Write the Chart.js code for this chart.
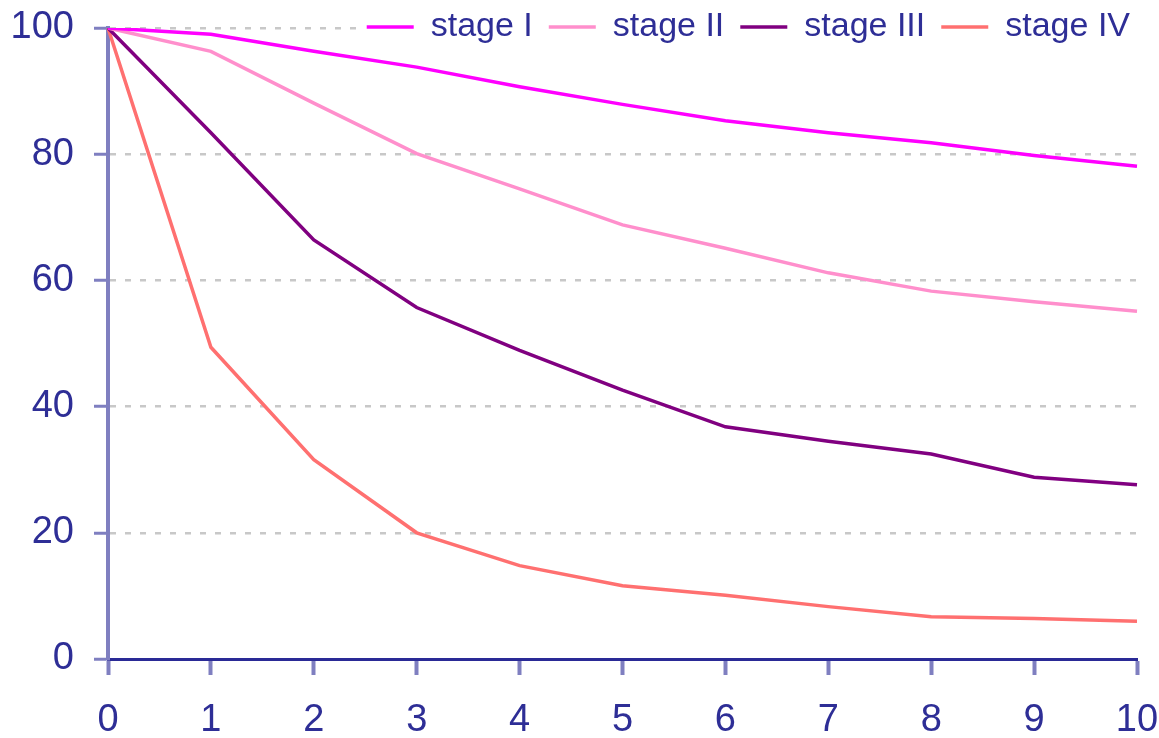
<!DOCTYPE html>
<html>
<head>
<meta charset="utf-8">
<script src="https://cdn.jsdelivr.net/npm/chart.js@4"></script>
<style>
  body { margin: 0; background: #fff; }
  canvas { display: block; }
</style>
</head>
<body>
<canvas id="chart" width="1159" height="738"></canvas>
<script>
// years after diagnosis
var years = ['0', '1', '2', '3', '4', '5', '6', '7', '8', '9', '10'];

// survival (%) per stage
var stageI   = [100, 99.0, 96.3, 93.8, 90.7, 87.9, 85.3, 83.4, 81.8, 79.8, 78.1];
var stageII  = [100, 96.3, 88.1, 80.1, 74.5, 68.8, 65.1, 61.2, 58.3, 56.6, 55.1];
var stageIII = [100, 83.4, 66.4, 55.7, 48.9, 42.6, 36.8, 34.5, 32.5, 28.8, 27.6];
var stageIV  = [100, 49.4, 31.6, 20.0, 14.8, 11.6, 10.1, 8.3, 6.7, 6.4, 6.0];

var seriesNames = ['stage I', 'stage II', 'stage III', 'stage IV'];
var seriesColors = ['#ff00ff', '#ff8fcc', '#800080', '#ff7070'];

var textColor = '#2e2e96';
var fontFamily = '"Liberation Sans", Arial, sans-serif';

// legend sits inside the plot (white box over the top gridline) and takes no layout space
var legendInPlot = {
    id: 'legendInPlot',
    beforeLayout: function (chart) {
        var lg = chart.legend;
        if (lg && !lg._patched) {
            var fit = lg.fit;
            lg.fit = function () {
                fit.call(this);
                this.height = 0;
            };
            var draw = lg.draw;
            lg.draw = function () {
                var pad = this.options.labels.padding;
                var x0 = this.right - this.lineWidths[0] - 6;
                var x1 = this.right - pad + 6;
                var ctx = this.ctx;
                ctx.save();
                ctx.fillStyle = '#ffffff';
                ctx.fillRect(x0, this.top + pad - 3, x1 - x0, 40);
                ctx.restore();
                draw.apply(this, arguments);
            };
            lg._patched = true;
        }
    },
    afterLayout: function (chart) {
        var lg = chart.legend;
        lg.top = -6;
        lg.bottom = 70;
        lg.right = chart.width - 13;
    }
};

var allData = [stageI, stageII, stageIII, stageIV];
var datasets = allData.map(function (values, i) {
    return {
        label: seriesNames[i],
        data: values,
        borderColor: seriesColors[i],
        backgroundColor: seriesColors[i],
        borderWidth: 3.5,
        pointRadius: 0,
        pointStyle: 'line',
        tension: 0,
        fill: false
    };
});

new Chart(document.getElementById('chart'), {
    type: 'line',
    data: {
        labels: years,
        datasets: datasets
    },
    options: {
        responsive: false,
        animation: false,
        devicePixelRatio: 1,
        layout: {
            padding: { left: 0, right: 22, top: 28, bottom: 0 }
        },
        plugins: {
            tooltip: { enabled: false },
            legend: {
                position: 'top',
                align: 'end',
                labels: {
                    usePointStyle: true,
                    pointStyleWidth: 47,
                    padding: 16,
                    color: textColor,
                    font: { family: fontFamily, size: 34 }
                }
            }
        },
        scales: {
            x: {
                offset: false,
                grid: {
                    drawOnChartArea: false,
                    tickLength: 16,
                    tickColor: '#7f7fc0',
                    tickWidth: 4
                },
                border: { color: '#2a2a96', width: 3 },
                ticks: {
                    color: textColor,
                    padding: 23,
                    maxRotation: 0,
                    font: { family: fontFamily, size: 38 }
                },
                afterFit: function (scale) {
                    scale.height = 79;
                    scale.paddingLeft = 0;
                    scale.paddingRight = 0;
                }
            },
            y: {
                min: 0,
                max: 100,
                ticks: {
                    stepSize: 20,
                    color: textColor,
                    padding: 20,
                    font: { family: fontFamily, size: 38 }
                },
                grid: {
                    z: -1,
                    color: function (ctx) {
                        return ctx.tick && ctx.tick.value === 0 ? 'rgba(0,0,0,0)' : '#c8c8c8';
                    },
                    lineWidth: 2.5,
                    tickLength: 14,
                    tickColor: '#7f7fc0',
                    tickWidth: 3
                },
                border: { color: '#7f7fc0', width: 4, dash: [6, 9] },
                afterFit: function (scale) {
                    scale.width = 108;
                    scale.paddingTop = 0;
                    scale.paddingBottom = 0;
                }
            }
        }
    },
    plugins: [legendInPlot]
});
</script>
</body>
</html>
